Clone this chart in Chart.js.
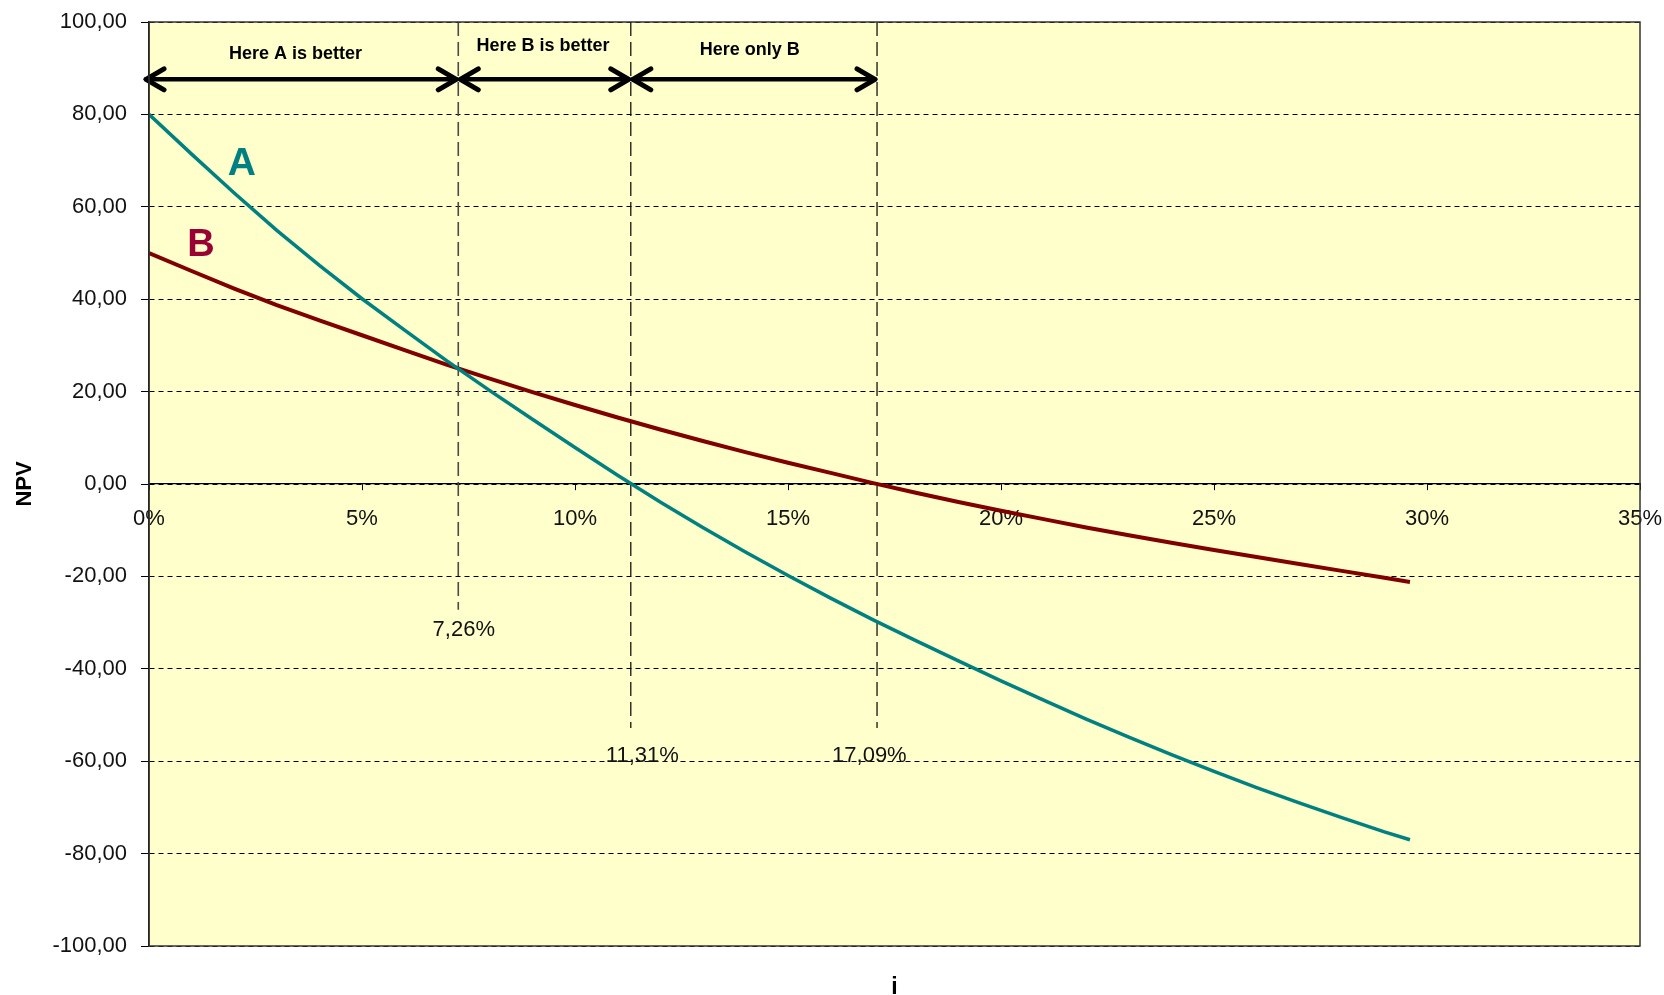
<!DOCTYPE html>
<html>
<head>
<meta charset="utf-8">
<title>NPV profiles of projects A and B</title>
<script src="https://cdn.jsdelivr.net/npm/chart.js@4.4.1/dist/chart.umd.min.js"></script>
<style>
  html, body { margin: 0; padding: 0; background: #ffffff; }
  #wrap { width: 1664px; height: 995px; position: relative; }
</style>
</head>
<body>
<div id="wrap"><canvas id="npvChart"></canvas></div>
<script>
// Discount rates (%) and the NPV of each project at those rates
const rates = [0, 1, 2, 3, 4, 5, 6, 7, 8, 9, 10, 11, 12, 13, 14, 15, 16, 17, 18, 19, 20,
               21, 22, 23, 24, 25, 26, 27, 28, 29, 29.6];
const npvA = [80.0, 71.4, 63.0, 54.9, 47.3, 40.1, 33.3, 26.6, 20.2, 14.0, 7.9, 1.9, -3.9,
              -9.4, -14.7, -19.8, -24.7, -29.4, -33.9, -38.3, -42.6, -46.8, -50.9, -54.8,
              -58.6, -62.2, -65.7, -69.0, -72.2, -75.3, -77.0];
const npvB = [50.0, 46.1, 42.3, 38.7, 35.4, 32.2, 29.0, 25.8, 22.8, 19.9, 17.1, 14.4, 11.8,
              9.3, 6.9, 4.6, 2.4, 0.2, -1.9, -3.9, -5.8, -7.6, -9.4, -11.1, -12.7, -14.3,
              -15.8, -17.3, -18.8, -20.3, -21.2];

// Axis tick labels
const rateTickLabels = ['0%', '5%', '10%', '15%', '20%', '25%', '30%', '35%'];
const npvTickLabels = ['-100,00', '-80,00', '-60,00', '-40,00', '-20,00', '0,00',
                       '20,00', '40,00', '60,00', '80,00', '100,00'];

// Crossover rate and the two IRRs, with where their dashed markers end
const markerRates = [7.26, 11.31, 17.09];
const markerBottoms = [-27.2, -52.8, -52.8];
const markerLabels = ['7,26%', '11,31%', '17,09%'];
const markerLabelX = [7.39, 11.58, 16.91];
const markerLabelY = [-31.6, -58.9, -58.9];

// Ranges shown with double arrows, and their captions
const rangeStarts = [0, 7.26, 11.31];
const rangeEnds = [7.26, 11.31, 17.09];
const rangeArrowY = 87.6;
const rangeCaptions = ['Here A is better', 'Here B is better', 'Here only B'];
const rangeCaptionX = [3.44, 9.25, 14.10];
const rangeCaptionY = [93.0, 94.8, 94.0];

// Series names written next to the curves
const seriesNames = ['A', 'B'];
const seriesNameX = [2.18, 1.22];
const seriesNameY = [69.3, 51.6];

const FONT = '"Liberation Sans", Arial, Helvetica, sans-serif';
const TEAL = '#008080';
const MAROON = '#800000';

const points = (ys) => rates.map((r, i) => ({ x: r, y: ys[i] }));

const markerSets = markerRates.map((r, i) => ({
  label: markerLabels[i],
  data: [{ x: r, y: 100 }, { x: r, y: markerBottoms[i] }],
  borderColor: i === 0 ? '#4a4a4a' : '#000000',
  borderWidth: i === 0 ? 1.6 : 1.2,
  borderDash: [14, 6],
  pointRadius: 0,
  order: 2
}));

const decorations = {
  id: 'decorations',
  beforeDraw(chart) {
    const { ctx, chartArea: a } = chart;
    ctx.save();
    ctx.fillStyle = '#ffffff';
    ctx.fillRect(0, 0, chart.width, chart.height);
    ctx.fillStyle = '#FFFFCC';
    ctx.fillRect(a.left, a.top, a.right - a.left, a.bottom - a.top);
    ctx.restore();
  },
  afterDatasetsDraw(chart) {
    const { ctx, scales: { x, y } } = chart;
    ctx.save();

    // double-headed arrows over each range
    ctx.strokeStyle = '#000000';
    ctx.lineCap = 'round';
    ctx.lineJoin = 'round';
    const ay = y.getPixelForValue(rangeArrowY);
    rangeStarts.forEach((s, i) => {
      const x1 = x.getPixelForValue(s) - (i === 0 ? 5 : 0);
      const x2 = x.getPixelForValue(rangeEnds[i]);
      ctx.lineWidth = 4.5;
      ctx.beginPath();
      ctx.moveTo(x1 + 2, ay);
      ctx.lineTo(x2 - 2, ay);
      ctx.stroke();
      ctx.lineWidth = 5;
      ctx.beginPath();
      ctx.moveTo(x1 + 20, ay - 10.5);
      ctx.lineTo(x1 + 2, ay);
      ctx.lineTo(x1 + 20, ay + 10.5);
      ctx.moveTo(x2 - 20, ay - 10.5);
      ctx.lineTo(x2 - 2, ay);
      ctx.lineTo(x2 - 20, ay + 10.5);
      ctx.stroke();
    });

    // range captions
    ctx.fillStyle = '#000000';
    ctx.textAlign = 'center';
    ctx.textBaseline = 'middle';
    ctx.font = 'bold 18px ' + FONT;
    rangeCaptions.forEach((t, i) => {
      ctx.fillText(t, x.getPixelForValue(rangeCaptionX[i]), y.getPixelForValue(rangeCaptionY[i]));
    });

    // rate labels under the dashed markers
    ctx.font = '22px ' + FONT;
    ctx.fillStyle = '#111111';
    markerLabels.forEach((t, i) => {
      ctx.fillText(t, x.getPixelForValue(markerLabelX[i]), y.getPixelForValue(markerLabelY[i]));
    });

    // curve names
    const nameColors = [TEAL, '#990033'];
    const nameSizes = [39, 38];
    seriesNames.forEach((t, i) => {
      ctx.font = 'bold ' + nameSizes[i] + 'px ' + FONT;
      ctx.fillStyle = nameColors[i];
      ctx.fillText(t, x.getPixelForValue(seriesNameX[i]), y.getPixelForValue(seriesNameY[i]));
    });
    ctx.restore();
  },
  afterDraw(chart) {
    const { ctx, chartArea: a } = chart;
    ctx.save();
    // plot frame
    ctx.strokeStyle = '#333333';
    ctx.lineWidth = 1.5;
    ctx.strokeRect(a.left, a.top, a.right - a.left, a.bottom - a.top);
    // horizontal axis title
    ctx.fillStyle = '#000000';
    ctx.font = 'bold 23px ' + FONT;
    ctx.textAlign = 'center';
    ctx.textBaseline = 'middle';
    ctx.fillText('i', (a.left + a.right) / 2, 988);
    ctx.restore();
  }
};

new Chart(document.getElementById('npvChart'), {
  type: 'line',
  data: {
    datasets: [
      { label: 'A', data: points(npvA), borderColor: TEAL, borderWidth: 3.5,
        pointRadius: 0, tension: 0, order: 0 },
      { label: 'B', data: points(npvB), borderColor: MAROON, borderWidth: 4,
        pointRadius: 0, tension: 0, order: 1 },
      ...markerSets
    ]
  },
  options: {
    responsive: true,
    maintainAspectRatio: false,
    animation: false,
    events: [],
    layout: { padding: { top: 22, right: 24, bottom: 49, left: 0 } },
    plugins: { legend: { display: false }, tooltip: { enabled: false } },
    scales: {
      x: {
        type: 'linear',
        position: { y: 0 },
        min: 0,
        max: 35,
        ticks: {
          stepSize: 5,
          maxRotation: 0,
          autoSkip: false,
          padding: 16,
          color: '#111111',
          font: { family: FONT, size: 22 },
          callback: (v, i) => rateTickLabels[i]
        },
        grid: { drawOnChartArea: false, drawTicks: true, tickLength: 6,
                tickColor: '#000000', tickWidth: 1 },
        border: { display: true, color: '#000000', width: 1.2 },
        afterFit(s) { s.paddingLeft = 0; s.paddingRight = 0; }
      },
      y: {
        type: 'linear',
        position: 'left',
        min: -100,
        max: 100,
        ticks: {
          stepSize: 20,
          padding: 14,
          color: '#111111',
          font: { family: FONT, size: 22 },
          callback: (v, i) => npvTickLabels[i]
        },
        grid: { color: '#000000', lineWidth: 1, drawTicks: true, tickLength: 8,
                tickColor: '#000000', tickWidth: 1, tickBorderDash: [] },
        border: { display: true, color: '#000000', width: 1.5, dash: [5, 4] },
        title: { display: true, text: 'NPV', color: '#000000',
                 font: { family: FONT, size: 22, weight: 'bold' },
                 padding: { top: 12, bottom: 0 } },
        afterFit(s) { s.width = 149; s.paddingTop = 0; s.paddingBottom = 0; }
      }
    }
  },
  plugins: [decorations]
});
</script>
</body>
</html>
